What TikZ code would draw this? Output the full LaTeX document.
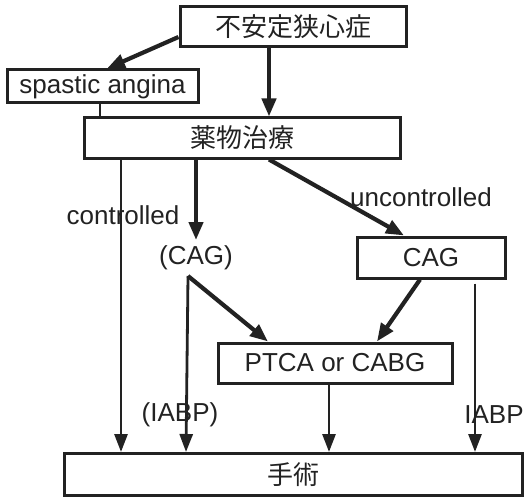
\documentclass[tikz,border=0pt]{standalone}
\usepackage{fontspec}
\setmainfont{Liberation Sans}
\newfontfamily\cjk{Noto Sans CJK JP}
\usetikzlibrary{arrows.meta}
\definecolor{ink}{HTML}{222222}
\begin{document}
\begin{tikzpicture}[x=1pt,y=-1pt,
  every node/.style={font=\fontsize{26}{30}\selectfont, text=ink},
  boxnode/.style={draw=ink, line width=3pt, rectangle, inner sep=0pt},
  thick arrow/.style={draw=ink, line width=4.2pt, -{Triangle[length=18pt,width=14pt]}},
  thin arrow/.style={draw=ink, line width=2.8pt, -{Triangle[length=18pt,width=13pt]}},
  lbl/.style={inner sep=0pt}]
\useasboundingbox (0,0) rectangle (526,497);
% boxes
\node[boxnode, minimum width=226pt, minimum height=40pt] (top) at (293,27) {\cjk 不安定狭心症};
\node[boxnode, minimum width=191pt, minimum height=33pt] (spa) at (102.5,86.5) {spastic angina};
\node[boxnode, minimum width=316pt, minimum height=40pt] (med) at (242,138) {\cjk 薬物治療};
\node[boxnode, minimum width=148pt, minimum height=41pt] (cag) at (431,257.5) {CAG};
\node[boxnode, minimum width=234pt, minimum height=40pt] (ptca) at (335,363) {PTCA or CABG};
\node[boxnode, minimum width=458pt, minimum height=42pt] (ope) at (293,474.5) {\cjk 手術};
\node[lbl] (pcag) at (196,258) {(CAG)};
% labels
\node[lbl] (lc) at (123,215) {controlled};
\node[lbl] (lu) at (421,197) {uncontrolled};
\node[lbl] (li) at (180,415) {(IABP)};
\node[lbl] (li2) at (494,415) {IABP};
% helper coordinates
\coordinate (x100) at (100,0);
\coordinate (x121) at (121,0);
\coordinate (x186) at (186,0);
\coordinate (x196) at (196,0);
\coordinate (x269) at (269,0);
\coordinate (x329) at (329,0);
\coordinate (x475) at (475,0);
\coordinate (pcagb) at (188,276);
% connectors
\draw[thick arrow] (top.west |- 0,37) -- (spa.north -| 107,0);
\draw[thick arrow] (top.south -| x269) -- (med.north -| x269);
\draw[draw=ink, line width=1.4pt] (spa.south -| x100) -- (med.north -| x100);
\draw[thin arrow] (med.south -| x121) -- (ope.north -| x121);
\draw[thick arrow] (med.south -| x196) -- (196,240);
\draw[thick arrow] (med.south -| x269) -- (cag.north -| 404,0);
\draw[thin arrow] (pcagb) -- (ope.north -| x186);
\draw[thick arrow] (pcagb) -- (ptca.north -| 268,0);
\draw[thick arrow] (cag.south -| 420,0) -- (ptca.north -| 377,0);
\draw[thin arrow] (cag.south -| x475) ++(0,4) -- (ope.north -| x475);
\draw[thin arrow] (ptca.south -| x329) -- (ope.north -| x329);
\end{tikzpicture}
\end{document}
